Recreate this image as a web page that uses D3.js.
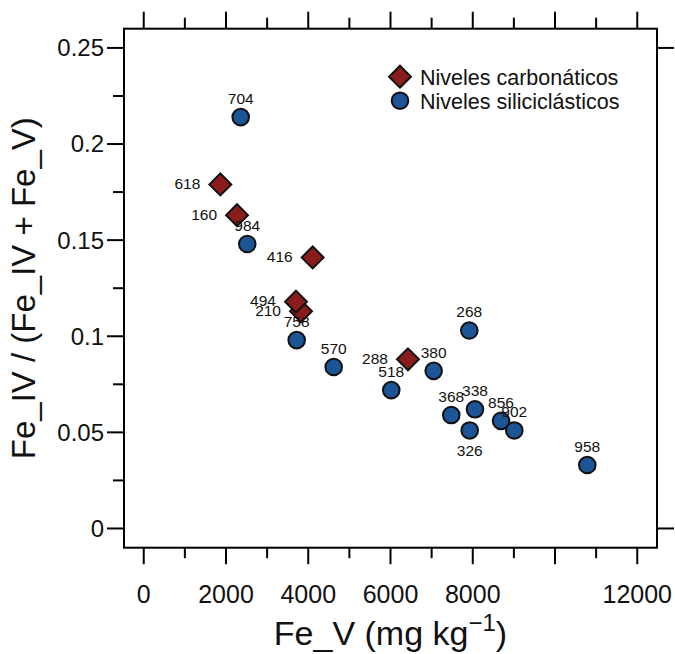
<!DOCTYPE html>
<html>
<head>
<meta charset="utf-8">
<script src="https://cdn.jsdelivr.net/npm/d3@7"></script>
<style>
  body { margin: 0; background: #fff; }
  text { font-family: "Liberation Sans", Arial, Helvetica, sans-serif; fill: #111; }
</style>
</head>
<body>
<div id="chart"></div>
<script>
// Niveles carbonáticos (diamonds)
const carbLabels = ['618', '160', '416', '210', '494', '288'];
const carbFeV = [1862, 2268, 4108, 3824, 3702, 6425];
const carbRatio = [0.179, 0.163, 0.141, 0.113, 0.118, 0.088];

// Niveles siliciclásticos (circles)
const siliLabels = ['704', '984', '758', '570', '268', '380', '518', '368', '338', '326', '856', '902', '958'];
const siliFeV = [2358, 2518, 3719, 4619, 7916, 7050, 6019, 7478, 8054, 7926, 8687, 9010, 10785];
const siliRatio = [0.214, 0.148, 0.098, 0.084, 0.103, 0.082, 0.072, 0.059, 0.062, 0.051, 0.056, 0.051, 0.033];
const siliLabelSide = ['top', 'top', 'top', 'top', 'top', 'top', 'top', 'top', 'top', 'bottom', 'top', 'top', 'top'];

const xTicks = [0, 2000, 4000, 6000, 8000, 10000, 12000];
const xTickLabels = ['0', '2000', '4000', '6000', '8000', '', '12000'];
const xMinor = [1000, 3000, 5000, 7000, 9000, 11000];
const yTicks = [0, 0.05, 0.1, 0.15, 0.2, 0.25];
const yTickLabels = ['0', '0.05', '0.1', '0.15', '0.2', '0.25'];
const yMinor = [0.025, 0.075, 0.125, 0.175, 0.225];
const rightTicks = [0, 0.25];

const legendNames = ['Niveles carbonáticos', 'Niveles siliciclásticos'];

const W = 675, H = 654;
const box = {left: 124, right: 657, top: 28.7, bottom: 547.7};

const carbColor = '#8b1c1c';
const siliColor = '#1b5596';

const xscale = d3.scaleLinear().domain([-480, 12480]).range([box.left, box.right]);
const yscale = d3.scaleLinear().domain([-0.01, 0.26]).range([box.bottom, box.top]);

const svg = d3.select('#chart')
  .append('svg')
  .attr('width', W)
  .attr('height', H);

// frame
svg.append('rect')
  .attr('x', box.left).attr('y', box.top)
  .attr('width', box.right - box.left).attr('height', box.bottom - box.top)
  .attr('fill', 'none').attr('stroke', '#000').attr('stroke-width', 2);

// ticks on all four sides
const tickG = svg.append('g').attr('stroke', '#000').attr('stroke-width', 2);
xTicks.forEach(function (t) {
  tickG.append('line').attr('x1', xscale(t)).attr('x2', xscale(t)).attr('y1', box.bottom).attr('y2', box.bottom + 16.5);
  tickG.append('line').attr('x1', xscale(t)).attr('x2', xscale(t)).attr('y1', box.top).attr('y2', box.top - 17);
});
xMinor.forEach(function (t) {
  tickG.append('line').attr('x1', xscale(t)).attr('x2', xscale(t)).attr('y1', box.bottom).attr('y2', box.bottom + 10.5);
  tickG.append('line').attr('x1', xscale(t)).attr('x2', xscale(t)).attr('y1', box.top).attr('y2', box.top - 11);
});
yTicks.forEach(function (t) {
  tickG.append('line').attr('x1', box.left).attr('x2', box.left - 17).attr('y1', yscale(t)).attr('y2', yscale(t));
});
yMinor.forEach(function (t) {
  tickG.append('line').attr('x1', box.left).attr('x2', box.left - 11).attr('y1', yscale(t)).attr('y2', yscale(t));
});
rightTicks.forEach(function (t) {
  tickG.append('line').attr('x1', box.right).attr('x2', box.right + 17).attr('y1', yscale(t)).attr('y2', yscale(t));
});

// tick labels
svg.selectAll('.xlab')
  .data(xTicks)
  .enter()
  .append('text')
  .attr('class', 'xlab')
  .attr('x', function (d) { return xscale(d); })
  .attr('y', 602.5)
  .attr('text-anchor', 'middle')
  .attr('font-size', 25)
  .text(function (d, i) { return xTickLabels[i]; });

svg.selectAll('.ylab')
  .data(yTicks)
  .enter()
  .append('text')
  .attr('class', 'ylab')
  .attr('x', 104)
  .attr('y', function (d) { return yscale(d); })
  .attr('dy', '0.35em')
  .attr('text-anchor', 'end')
  .attr('font-size', 24)
  .text(function (d, i) { return yTickLabels[i]; });

// axis titles
const xt = svg.append('text')
  .attr('x', (box.left + box.right) / 2)
  .attr('y', 645)
  .attr('text-anchor', 'middle')
  .attr('font-size', 34);
xt.append('tspan').text('Fe_V (mg kg');
xt.append('tspan').attr('dy', -14).attr('font-size', 24).text('\u22121');
xt.append('tspan').attr('dy', 14).text(')');

svg.append('text')
  .attr('transform', `translate(35, ${(box.top + box.bottom) / 2}) rotate(-90)`)
  .attr('text-anchor', 'middle')
  .attr('font-size', 33)
  .text('Fe_IV / (Fe_IV + Fe_V)');

// points
const sili = siliLabels.map(function (l, i) {
  return {label: l, x: siliFeV[i], y: siliRatio[i], side: siliLabelSide[i]};
});
const carb = carbLabels.map(function (l, i) {
  return {label: l, x: carbFeV[i], y: carbRatio[i], side: 'left'};
});

const diamond = d3.symbol().type(d3.symbolSquare).size(240);

svg.selectAll('.sili')
  .data(sili)
  .enter()
  .append('circle')
  .attr('class', 'sili')
  .attr('cx', function (d) { return xscale(d.x); })
  .attr('cy', function (d) { return yscale(d.y); })
  .attr('r', 8.3)
  .attr('fill', siliColor)
  .attr('stroke', '#111')
  .attr('stroke-width', 2);

svg.selectAll('.carb')
  .data(carb)
  .enter()
  .append('path')
  .attr('class', 'carb')
  .attr('d', diamond)
  .attr('transform', function (d) { return `translate(${xscale(d.x)},${yscale(d.y)}) rotate(45)`; })
  .attr('fill', carbColor)
  .attr('stroke', '#111')
  .attr('stroke-width', 2);

// point labels
svg.selectAll('.plab')
  .data(sili.concat(carb))
  .enter()
  .append('text')
  .attr('class', 'plab')
  .attr('font-size', 15.5)
  .attr('x', function (d) {
    if (d.side === 'left') return xscale(d.x) - 20;
    return xscale(d.x);
  })
  .attr('y', function (d) {
    if (d.side === 'top') return yscale(d.y) - 18.5;
    if (d.side === 'bottom') return yscale(d.y) + 20;
    return yscale(d.y) - 1;
  })
  .attr('dy', '0.35em')
  .attr('text-anchor', function (d) { return d.side === 'left' ? 'end' : 'middle'; })
  .text(function (d) { return d.label; });

// legend
const leg = svg.append('g');
leg.append('path')
  .attr('d', diamond)
  .attr('transform', 'translate(400,76.7) rotate(45)')
  .attr('fill', carbColor).attr('stroke', '#111').attr('stroke-width', 2);
leg.append('circle')
  .attr('cx', 400).attr('cy', 100.7).attr('r', 8.3)
  .attr('fill', siliColor).attr('stroke', '#111').attr('stroke-width', 2);
legendNames.forEach(function (n, i) {
  leg.append('text')
    .attr('x', 420)
    .attr('y', 77 + i * 24)
    .attr('dy', '0.35em')
    .attr('font-size', 21.5)
    .text(n);
});
</script>
</body>
</html>
